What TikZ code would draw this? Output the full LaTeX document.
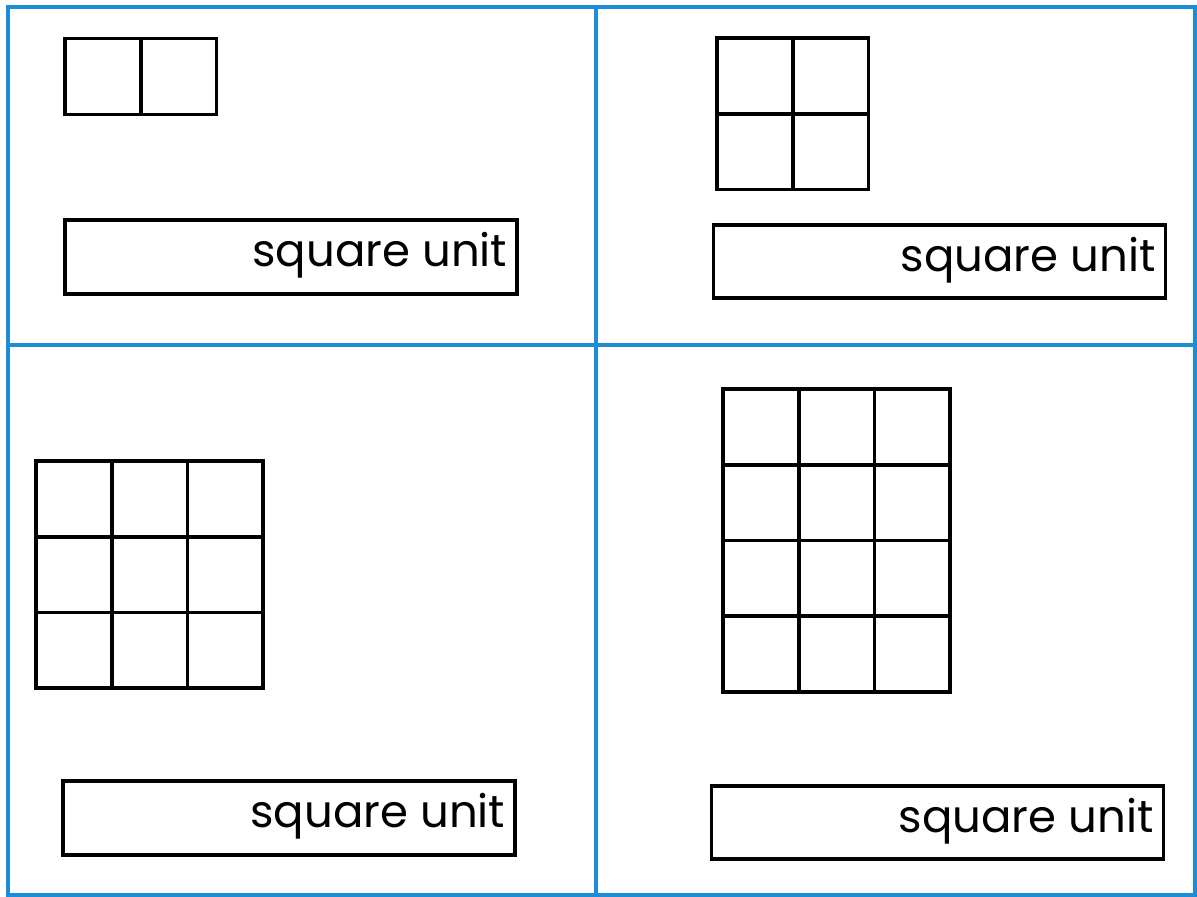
\documentclass[tikz,border=0pt]{standalone}
\usepackage{fontspec}
\setmainfont{Poppins}
\usepackage{tikz}
\usetikzlibrary{positioning, calc}
\definecolor{frameblue}{RGB}{28,140,214}

\begin{document}
\begin{tikzpicture}[
    x=0.01cm, y=-0.01cm,
    frame/.style={draw=frameblue, line width=1.1pt},
    cell/.style={rectangle, draw=black, line width=1.05pt, minimum size=0.757cm, inner sep=0pt},
    ansbox/.style={rectangle, draw=black, line width=1.05pt, minimum width=4.52cm, minimum height=0.735cm, inner sep=0pt},
    unitlabel/.style={font=\fontsize{12.8}{14}\selectfont, inner sep=0pt, anchor=base east}
]
\useasboundingbox (0,0) rectangle (1197,897);
% frame and dividers
\draw[frame] (8,7) rectangle (1195,895);
\draw[frame] (596,7) -- (596,895);
\draw[frame] (8,345) -- (1195,345);
% top left: 1 x 2
\foreach \i in {1,2} {
    \pgfmathsetmacro{\xpos}{103 + (\i-1)*75.7}
    \node[cell] (a\i) at (\xpos, 76.5) {};
}
\node[ansbox] (ans1) at (291, 257) {};
\node[unitlabel] (lab1) at ([xshift=-0.11cm, yshift=0.29cm]ans1.south east) {square unit};
% top right: 2 x 2
\foreach \r in {1,2} {
    \foreach \c in {1,2} {
        \pgfmathsetmacro{\xpos}{755 + (\c-1)*75.7}
        \pgfmathsetmacro{\ypos}{76 + (\r-1)*75.7}
        \node[cell] (b\r\c) at (\xpos, \ypos) {};
    }
}
\node[ansbox] (ans2) at (939.5, 261.5) {};
\node[unitlabel] (lab2) at ([xshift=-0.11cm, yshift=0.29cm]ans2.south east) {square unit};
% bottom left: 3 x 3
\foreach \r in {1,...,3} {
    \foreach \c in {1,...,3} {
        \pgfmathsetmacro{\xpos}{74 + (\c-1)*75.7}
        \pgfmathsetmacro{\ypos}{499 + (\r-1)*75.7}
        \node[cell] (c\r\c) at (\xpos, \ypos) {};
    }
}
\node[ansbox] (ans3) at (289, 818) {};
\node[unitlabel] (lab3) at ([xshift=-0.11cm, yshift=0.29cm]ans3.south east) {square unit};
% bottom right: 4 x 3
\foreach \r in {1,...,4} {
    \foreach \c in {1,...,3} {
        \pgfmathsetmacro{\xpos}{761 + (\c-1)*75.7}
        \pgfmathsetmacro{\ypos}{427 + (\r-1)*75.7}
        \node[cell] (d\r\c) at (\xpos, \ypos) {};
    }
}
\node[ansbox] (ans4) at (937.5, 822.5) {};
\node[unitlabel] (lab4) at ([xshift=-0.11cm, yshift=0.29cm]ans4.south east) {square unit};
\end{tikzpicture}
\end{document}
